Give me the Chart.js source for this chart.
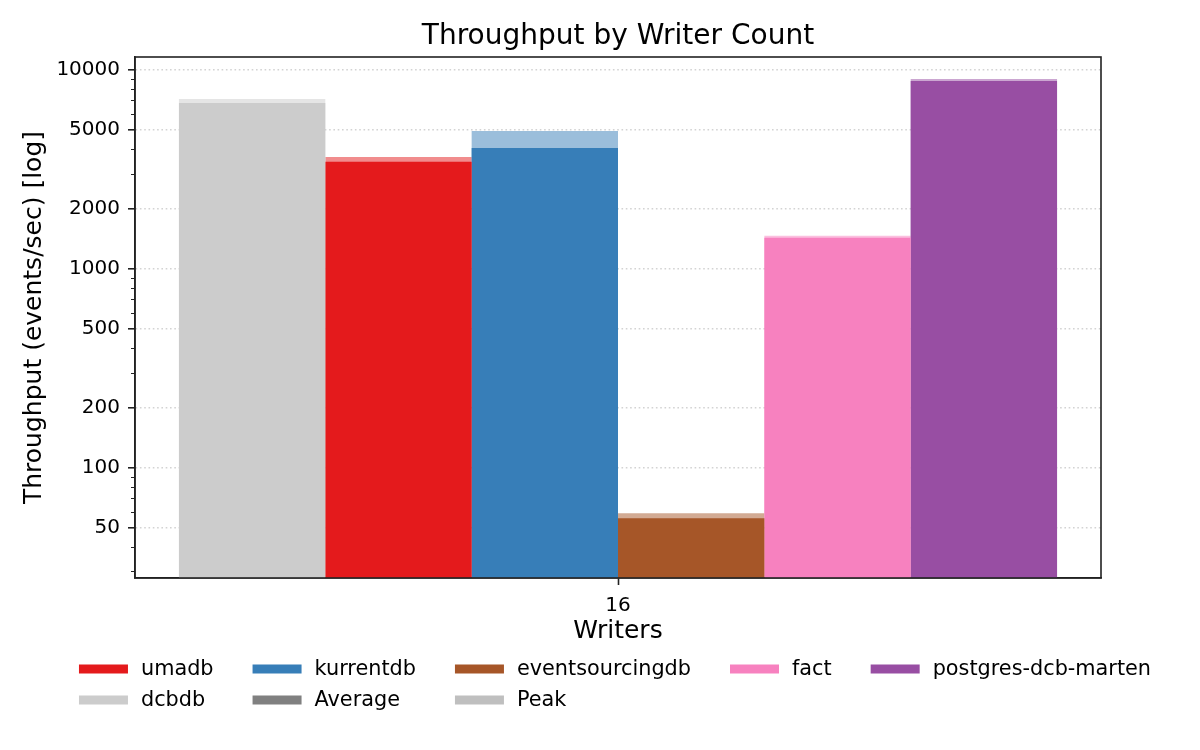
<!DOCTYPE html>
<html>
<head>
<meta charset="utf-8">
<script src="https://cdn.jsdelivr.net/npm/chart.js@4.4.1/dist/chart.umd.min.js"></script>
<style>
  html, body { margin: 0; padding: 0; background: #fff; }
  #wrap { width: 1200px; height: 750px; }
</style>
</head>
<body>
<div id="wrap"><canvas id="chart1" width="1200" height="750"></canvas></div>
<script>
const writers = ["16"];
const databases = ["dcbdb", "umadb", "kurrentdb", "eventsourcingdb", "fact", "postgres-dcb-marten"];
const averageValues = [6800, 3440, 4040, 55.5, 1427, 8775];
const peakValues = [7130, 3640, 4920, 58.8, 1460, 8980];
const colors = ["#cccccc", "#e41a1c", "#377eb8", "#a65628", "#f781bf", "#984ea3"];
const majorTicks = [50, 100, 200, 500, 1000, 2000, 5000, 10000];
const legendOrder = ["umadb", "kurrentdb", "eventsourcingdb", "fact", "postgres-dcb-marten", "dcbdb", "Average", "Peak"];

const FONT = "'DejaVu Sans', sans-serif";

function fade(hex, a) {
    const n = parseInt(hex.slice(1), 16);
    return "rgba(" + (n >> 16) + "," + ((n >> 8) & 255) + "," + (n & 255) + "," + a + ")";
}

const datasets = [];
databases.forEach((db, i) => {
    datasets.push({
        label: db,
        data: [averageValues[i]],
        stack: db,
        order: 0,
        backgroundColor: colors[i]
    });
    datasets.push({
        label: db + " peak",
        data: [peakValues[i]],
        stack: db,
        order: 1,
        backgroundColor: fade(colors[i], 0.5)
    });
});

// matplotlib style frame + minor ticks
const framePlugin = {
    id: "frame",
    afterDraw(chart) {
        const { ctx, chartArea: a } = chart;
        const y = chart.scales.y;
        ctx.save();
        ctx.strokeStyle = "#222";
        ctx.beginPath();
        for (let e = 1; e <= 4; e++) {
            for (let m = 1; m <= 9; m++) {
                const v = m * Math.pow(10, e);
                if (v < y.min || v > y.max || majorTicks.includes(v)) continue;
                const py = Math.round(y.getPixelForValue(v)) + 0.5;
                ctx.moveTo(a.left, py);
                ctx.lineTo(a.left - 4, py);
            }
        }
        ctx.lineWidth = 1.2;
        ctx.stroke();
        ctx.lineWidth = 1.6;
        ctx.strokeRect(a.left, a.top, a.right - a.left, a.bottom - a.top);
        ctx.restore();
    }
};

const legendPlugin = {
    id: "gridLegend",
    afterDraw(chart) {
        const { ctx, chartArea: a } = chart;
        const swatch = {};
        databases.forEach((db, i) => swatch[db] = colors[i]);
        swatch["Average"] = "#808080";
        swatch["Peak"] = "#bfbfbf";
        ctx.save();
        ctx.font = "20.8px " + FONT;
        const cols = 5, handle = 49, gap = 13, spacing = 39;
        const widths = [];
        for (let c = 0; c < cols; c++) {
            let w = 0;
            for (let k = c; k < legendOrder.length; k += cols) {
                w = Math.max(w, ctx.measureText(legendOrder[k]).width);
            }
            widths.push(handle + gap + w);
        }
        const total = widths.reduce((s, w) => s + w, 0) + spacing * (cols - 1);
        let x0 = (a.left + a.right) / 2 - 3 - total / 2;
        const xs = [];
        widths.forEach(w => { xs.push(x0); x0 += w + spacing; });
        const rows = [669, 700];
        ctx.textBaseline = "middle";
        legendOrder.forEach((name, k) => {
            const c = k % cols, r = Math.floor(k / cols);
            const x = xs[c], yy = rows[r];
            ctx.fillStyle = swatch[name];
            ctx.fillRect(x, yy - 4.5, handle, 9);
            ctx.fillStyle = "#000";
            ctx.fillText(name, x + handle + gap, yy + 1);
        });
        ctx.restore();
    }
};

const chart1 = document.getElementById("chart1");

const barChart = new Chart(chart1, {
    type: "bar",
    data: {
        labels: writers,
        datasets: datasets
    },
    plugins: [framePlugin, legendPlugin],
    options: {
        responsive: false,
        animation: false,
        devicePixelRatio: 1,
        layout: {
            padding: { left: 0, right: 99, top: 0, bottom: 105 }
        },
        datasets: {
            bar: {
                categoryPercentage: 0.909,
                barPercentage: 1.0,
                borderWidth: 0
            }
        },
        plugins: {
            legend: { display: false },
            tooltip: { enabled: false },
            title: {
                display: true,
                fullSize: false,
                text: "Throughput by Writer Count",
                color: "#000",
                font: { family: FONT, size: 28, weight: "normal", lineHeight: 1.2 },
                padding: { top: 20, bottom: 3.4 }
            }
        },
        scales: {
            x: {
                stacked: true,
                afterFit(scale) { scale.height = 67; },
                grid: {
                    display: true,
                    drawOnChartArea: false,
                    offset: false,
                    drawTicks: true,
                    tickLength: 7,
                    tickColor: "#222",
                    tickWidth: 1.6
                },
                border: { display: true, color: "#222", width: 1.6 },
                ticks: {
                    color: "#000",
                    padding: 9,
                    font: { family: FONT, size: 20 }
                },
                title: {
                    display: true,
                    text: "Writers",
                    color: "#000",
                    font: { family: FONT, size: 25, lineHeight: 1 },
                    padding: { top: 0, bottom: 1 }
                }
            },
            y: {
                type: "logarithmic",
                stacked: false,
                min: 27.8,
                max: 11580,
                bounds: "data",
                z: 1,
                afterFit(scale) { scale.width = 135; },
                afterBuildTicks(scale) {
                    scale.ticks = majorTicks.map(v => ({ value: v }));
                },
                grid: {
                    color: "rgba(128,128,128,0.35)",
                    lineWidth: 1.6,
                    drawTicks: true,
                    tickLength: 7,
                    tickColor: "#222",
                    tickWidth: 1.6,
                    tickBorderDash: []
                },
                border: { display: true, color: "#222", width: 1.6, dash: [1.6, 2.7] },
                ticks: {
                    color: "#000",
                    padding: 8,
                    autoSkip: false,
                    font: { family: FONT, size: 20 },
                    callback: v => String(v)
                },
                title: {
                    display: true,
                    text: "Throughput (events/sec) [log]",
                    color: "#000",
                    font: { family: FONT, size: 25, lineHeight: 1 },
                    padding: { top: 22, bottom: 0 }
                }
            }
        }
    }
});
</script>
</body>
</html>
